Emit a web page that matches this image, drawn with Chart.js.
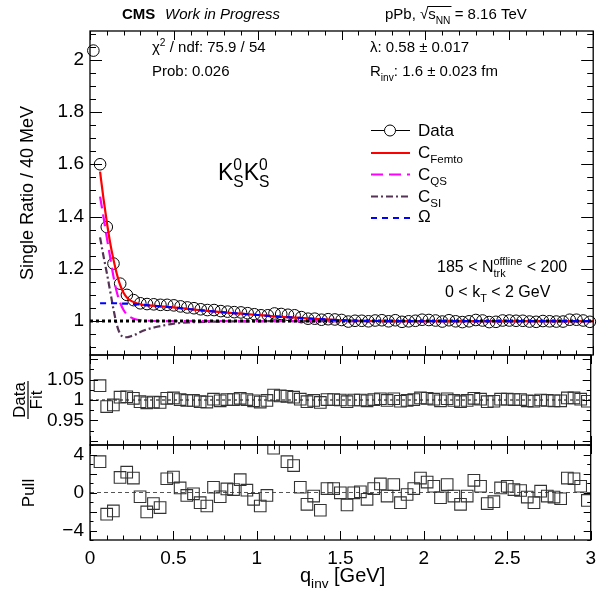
<!DOCTYPE html>
<html>
<head>
<meta charset="utf-8">
<script src="https://cdn.jsdelivr.net/npm/chart.js@4.4.1/dist/chart.umd.min.js"></script>
<style>
  body { margin: 0; background: #fff; }
  #wrap { position: relative; width: 600px; height: 597px; }
  #wrap canvas { position: absolute; left: 0; top: 0; }
</style>
</head>
<body>
<div id="wrap">
  <canvas id="mainPanel" width="600" height="597"></canvas>
  <canvas id="ratioPanel" width="600" height="597"></canvas>
  <canvas id="pullPanel" width="600" height="597"></canvas>
</div>
<script>

var FONT = '"Liberation Sans", Arial, Helvetica, sans-serif';

// DATA #######################################################################

// bin centres of the single ratio (40 MeV bins)
var qBins = [0.02, 0.06, 0.10, 0.14, 0.18, 0.22, 0.26, 0.30, 0.34, 0.38,
             0.42, 0.46, 0.50, 0.54, 0.58, 0.62, 0.66, 0.70, 0.74, 0.78,
             0.82, 0.86, 0.90, 0.94, 0.98, 1.02, 1.06, 1.10, 1.14, 1.18,
             1.22, 1.26, 1.30, 1.34, 1.38, 1.42, 1.46, 1.50, 1.54, 1.58,
             1.62, 1.66, 1.70, 1.74, 1.78, 1.82, 1.86, 1.90, 1.94, 1.98,
             2.02, 2.06, 2.10, 2.14, 2.18, 2.22, 2.26, 2.30, 2.34, 2.38,
             2.42, 2.46, 2.50, 2.54, 2.58, 2.62, 2.66, 2.70, 2.74, 2.78,
             2.82, 2.86, 2.90, 2.94, 2.98];

var singleRatio = [2.035, 1.600, 1.360, 1.220, 1.143, 1.100, 1.080, 1.068, 1.065, 1.064,
                   1.062, 1.062, 1.060, 1.056, 1.052, 1.049, 1.045, 1.042, 1.042, 1.038,
                   1.036, 1.034, 1.033, 1.030, 1.026, 1.022, 1.022, 1.029, 1.027, 1.024,
                   1.022, 1.015, 1.009, 1.009, 1.005, 1.007, 1.006, 1.004, 0.998, 1.001,
                   1.001, 0.999, 1.002, 1.003, 0.999, 1.003, 0.997, 0.999, 1.001, 1.005,
                   1.004, 1.002, 0.998, 1.003, 0.999, 0.996, 0.999, 1.004, 1.002, 0.996,
                   0.997, 1.002, 1.002, 1.001, 1.001, 0.998, 0.997, 1.000, 0.999, 0.998,
                   0.998, 1.005, 1.005, 1.002, 0.997];

// data / fit and pull start at the second bin (fit range)
var dataOverFit = [1.035, 0.984, 0.988, 1.007, 1.008, 1.004, 0.996, 0.993, 0.995, 0.994,
                   1.004, 1.005, 1.001, 0.999, 0.999, 0.996, 0.995, 1.002, 0.998, 1.001,
                   1.001, 1.004, 1.001, 0.998, 0.995, 0.999, 1.012, 1.010, 1.009, 1.007,
                   1.002, 0.996, 0.999, 0.994, 1.001, 1.001, 1.000, 0.996, 1.000, 1.000,
                   0.998, 1.001, 1.003, 0.999, 1.003, 0.997, 0.999, 1.001, 1.005, 1.004,
                   1.002, 0.998, 1.003, 0.999, 0.996, 0.999, 1.004, 1.002, 0.996, 0.997,
                   1.002, 1.002, 1.001, 1.001, 0.998, 0.997, 1.000, 0.999, 0.998, 0.998,
                   1.005, 1.005, 1.002, 0.997];

var pullValues = [3.24, -2.28, -1.94, 1.59, 2.14, 1.52, -0.45, -2.04, -1.17, -1.59,
                  1.45, 1.62, 0.48, -0.31, -0.14, -1.07, -1.42, 0.55, -0.45, 0.38,
                  0.31, 1.35, 0.24, -0.72, -1.42, -0.31, 4.66, 5.8, 3.24, 2.83,
                  0.55, -1.24, -0.38, -1.87, 0.41, 0.41, -0.03, -1.31, -0.03, 0.07,
                  -0.72, 0.41, 0.90, -0.38, 0.83, -1.07, -0.21, 0.41, 1.52, 1.10,
                  0.66, -0.55, 0.83, -0.38, -1.24, -0.38, 1.28, 0.66, -1.17, -0.97,
                  0.48, 0.66, 0.31, 0.21, -0.48, -1.07, 0.14, -0.38, -0.48, -0.66,
                  1.52, 1.45, 0.66, -0.83];

// fit components
var fitQ = [0.06, 0.08, 0.10, 0.12, 0.14, 0.16, 0.18, 0.20, 0.22, 0.24,
            0.27, 0.30, 0.35, 0.40, 0.50, 0.60, 0.70, 0.80, 0.90, 1.00,
            1.10, 1.20, 1.30, 1.40, 1.50, 1.60, 1.80, 2.00, 2.50, 3.00];

var femtoFit = [1.572, 1.470, 1.380, 1.300, 1.235, 1.180, 1.137, 1.108, 1.090, 1.079,
                1.070, 1.064, 1.060, 1.057, 1.052, 1.045, 1.039, 1.033, 1.028, 1.023,
                1.018, 1.014, 1.010, 1.006, 1.003, 1.001, 1.000, 1.000, 1.000, 1.000];

var qsFit = [1.476, 1.400, 1.320, 1.245, 1.170, 1.110, 1.070, 1.042, 1.025, 1.015,
             1.007, 1.003, 1.001, 1.000, 1.000, 1.000, 1.000, 1.000, 1.000, 1.000,
             1.000, 1.000, 1.000, 1.000, 1.000, 1.000, 1.000, 1.000, 1.000, 1.000];

var siFit = [1.320, 1.250, 1.185, 1.115, 1.045, 0.985, 0.950, 0.940, 0.938, 0.941,
             0.948, 0.958, 0.970, 0.978, 0.990, 0.995, 0.997, 0.998, 0.999, 0.999,
             1.000, 1.000, 1.000, 1.000, 1.000, 1.000, 1.000, 1.000, 1.000, 1.000];

var omegaFit = [1.068, 1.068, 1.068, 1.068, 1.068, 1.068, 1.067, 1.067, 1.067, 1.066,
                1.065, 1.063, 1.060, 1.057, 1.052, 1.045, 1.039, 1.033, 1.028, 1.023,
                1.018, 1.014, 1.010, 1.006, 1.003, 1.001, 1.000, 1.000, 1.000, 1.000];

var unityQ = [0, 3];
var xTickLabels = [0, 0.5, 1, 1.5, 2, 2.5, 3];
var mainYTicks = [1, 1.2, 1.4, 1.6, 1.8, 2];
var ratioYTicks = [0.95, 1, 1.05];
var pullYTicks = [-4, -2, 0, 2, 4];


// HELPERS ####################################################################

function pts(xs, ys) {
    return xs.map(function (x, i) { return {x: x, y: ys[i]}; });
}

function minusSign(v) {
    return v < 0 ? '\u2212' + Math.abs(v) : String(v);
}

// text with sub/superscripts, y is the baseline
function drawRich(ctx, x, y, parts, size) {
    var small = size * 0.68;
    var cx = x;
    ctx.textAlign = 'left';
    ctx.textBaseline = 'alphabetic';
    ctx.fillStyle = '#000';
    parts.forEach(function (p) {
        ctx.font = (p.style || '') + ' ' + size + 'px ' + FONT;
        if (p.t) {
            ctx.fillText(p.t, cx, y);
            cx += ctx.measureText(p.t).width;
        }
        ctx.font = small + 'px ' + FONT;
        var sw = 0;
        if (p.sub) {
            ctx.fillText(p.sub, cx, y + size * 0.32);
            sw = ctx.measureText(p.sub).width;
        }
        if (p.sup) {
            ctx.fillText(p.sup, cx, y - size * 0.42);
            sw = Math.max(sw, ctx.measureText(p.sup).width);
        }
        cx += sw;
    });
    return cx;
}

function seg(ctx, x1, y1, x2, y2) {
    ctx.beginPath();
    ctx.moveTo(x1, y1);
    ctx.lineTo(x2, y2);
    ctx.stroke();
}

// ROOT style frame with inward ticks on all four sides
function rootFrame(yMinor, yMajor, yLen) {
    return {
        id: 'rootFrame',
        afterDraw: function (chart) {
            var ctx = chart.ctx, a = chart.chartArea;
            var xs = chart.scales.x, ys = chart.scales.y;
            ctx.save();
            ctx.strokeStyle = '#000';
            ctx.lineWidth = 1;
            for (var i = 0; i <= 30; i++) {
                var px = Math.round(xs.getPixelForValue(i / 10)) + 0.5;
                var len = (i % 5 === 0) ? 9 : 4.5;
                seg(ctx, px, a.bottom, px, a.bottom - len);
                seg(ctx, px, a.top, px, a.top + len);
            }
            var k0 = Math.ceil(ys.min / yMinor - 1e-6), k1 = Math.floor(ys.max / yMinor + 1e-6);
            for (var k = k0; k <= k1; k++) {
                var v = k * yMinor;
                var r = v / yMajor;
                var major = Math.abs(r - Math.round(r)) < 1e-6;
                var py = Math.round(ys.getPixelForValue(v)) + 0.5;
                var l = major ? yLen : yLen / 2;
                seg(ctx, a.left, py, a.left + l, py);
                seg(ctx, a.right, py, a.right - l, py);
            }
            ctx.lineWidth = 1.3;
            ctx.strokeRect(a.left, a.top, a.right - a.left, a.bottom - a.top);
            ctx.restore();
        }
    };
}

function yAxis(min, max, tickList, afterTitle) {
    return {
        type: 'linear',
        min: min,
        max: max,
        afterBuildTicks: function (s) {
            s.ticks = tickList.map(function (v) { return {value: v}; });
        },
        ticks: {
            color: '#000',
            padding: 6,
            font: {family: FONT, size: 19},
            callback: function (v) { return minusSign(v); }
        },
        grid: {display: false, drawTicks: false},
        border: {display: false},
        title: afterTitle || {display: false},
        afterFit: function (s) {
            s.width = 90;
            s.paddingTop = 0;
            s.paddingBottom = 0;
        }
    };
}

var hiddenX = {type: 'linear', min: 0, max: 3, display: false};


// MAIN PANEL #################################################################

var mainText = {
    id: 'mainText',
    afterDraw: function (chart) {
        var ctx = chart.ctx;
        ctx.save();
        drawRich(ctx, 122, 19, [{t: 'CMS', style: 'bold'}], 15);
        drawRich(ctx, 165, 19, [{t: 'Work in Progress', style: 'italic'}], 15);

        var x = drawRich(ctx, 385, 19, [{t: 'pPb, '}], 15);
        x = drawRich(ctx, x, 19, [{t: '\u221A'}], 15);
        var x0 = x;
        x = drawRich(ctx, x, 19, [{t: 's', sub: 'NN'}], 15);
        ctx.strokeStyle = '#000';
        ctx.lineWidth = 1;
        seg(ctx, x0 - 1, 6.5, x + 1, 6.5);
        drawRich(ctx, x, 19, [{t: ' = 8.16 TeV'}], 15);

        drawRich(ctx, 152, 52, [{t: '\u03C7', sup: '2'}, {t: ' / ndf: 75.9 / 54'}], 15);
        drawRich(ctx, 152, 76, [{t: 'Prob: 0.026'}], 15);
        drawRich(ctx, 370, 52, [{t: '\u03BB: 0.58 \u00B1 0.017'}], 15);
        drawRich(ctx, 370, 76, [{t: 'R', sub: 'inv'}, {t: ': 1.6 \u00B1 0.023 fm'}], 15);

        drawRich(ctx, 218, 180, [{t: 'K', sub: 'S', sup: '0'}, {t: 'K', sub: 'S', sup: '0'}], 23);

        drawRich(ctx, 437, 272, [{t: '185 < N', sub: 'trk', sup: 'offline'}, {t: ' < 200'}], 16);
        drawRich(ctx, 445, 297, [{t: '0 < k', sub: 'T'}, {t: ' < 2 GeV'}], 16);

        // legend
        ctx.lineWidth = 1;
        ctx.strokeStyle = '#000';
        seg(ctx, 371, 130.5, 384.5, 130.5);
        seg(ctx, 395.5, 130.5, 410, 130.5);
        ctx.beginPath();
        ctx.arc(390, 130.5, 5.5, 0, Math.PI * 2);
        ctx.stroke();
        drawRich(ctx, 418, 136, [{t: 'Data'}], 17);

        ctx.lineWidth = 2.2;
        ctx.strokeStyle = '#ff0000';
        seg(ctx, 371, 153, 410, 153);
        drawRich(ctx, 418, 158, [{t: 'C', sub: 'Femto'}], 17);

        ctx.strokeStyle = '#ff00ff';
        ctx.setLineDash([12, 6]);
        seg(ctx, 371, 174.5, 410, 174.5);
        drawRich(ctx, 418, 179.5, [{t: 'C', sub: 'QS'}], 17);

        ctx.strokeStyle = '#553355';
        ctx.setLineDash([7, 3, 2, 3]);
        seg(ctx, 371, 196.5, 410, 196.5);
        drawRich(ctx, 418, 201.5, [{t: 'C', sub: 'SI'}], 17);

        ctx.strokeStyle = '#0000ff';
        ctx.setLineDash([6, 5]);
        seg(ctx, 371, 218, 410, 218);
        ctx.setLineDash([]);
        drawRich(ctx, 418, 222, [{t: '\u03A9'}], 17);
        ctx.restore();
    }
};

var curveStyle = {pointRadius: 0, borderWidth: 2.2, cubicInterpolationMode: 'monotone', fill: false};

new Chart(document.getElementById('mainPanel'), {
    type: 'line',
    data: {
        datasets: [
            Object.assign({data: pts(fitQ, omegaFit), borderColor: '#0000ff', borderDash: [6, 5], order: 1}, curveStyle),
            Object.assign({data: pts(unityQ, [1, 1]), borderColor: '#000', borderDash: [3, 3], order: 2}, curveStyle, {borderWidth: 3}),
            Object.assign({data: pts(fitQ, femtoFit), borderColor: '#ff0000', order: 3}, curveStyle),
            Object.assign({data: pts(fitQ, qsFit), borderColor: '#ff00ff', borderDash: [12, 6], order: 4}, curveStyle),
            Object.assign({data: pts(fitQ, siFit), borderColor: '#553355', borderDash: [7, 3, 2, 3], order: 5}, curveStyle),
            {
                data: pts(qBins, singleRatio),
                showLine: false,
                pointStyle: 'circle',
                pointRadius: 5.8,
                pointBorderWidth: 1,
                pointBorderColor: '#000',
                pointBackgroundColor: 'rgba(0,0,0,0)',
                clip: false,
                order: 6
            }
        ]
    },
    options: {
        responsive: false,
        animation: false,
        events: [],
        layout: {padding: {top: 31, right: 2, bottom: 242, left: 0}},
        plugins: {legend: {display: false}, tooltip: {enabled: false}},
        scales: {
            x: hiddenX,
            y: yAxis(0.87, 2.11, mainYTicks, {
                display: true,
                text: 'Single Ratio / 40 MeV',
                color: '#000',
                font: {family: FONT, size: 18},
                padding: {top: 17, bottom: 0}
            })
        }
    },
    plugins: [rootFrame(0.05, 0.2, 12), mainText]
});


// RATIO PANEL ################################################################

var ratioTitle = {
    id: 'ratioTitle',
    afterDraw: function (chart) {
        var ctx = chart.ctx;
        ctx.save();
        ctx.translate(28, 400);
        ctx.rotate(-Math.PI / 2);
        ctx.font = '17px ' + FONT;
        ctx.fillStyle = '#000';
        ctx.textAlign = 'center';
        ctx.textBaseline = 'alphabetic';
        ctx.fillText('Data', 0, -3);
        ctx.fillText('Fit', 0, 14);
        var w = ctx.measureText('Data').width;
        ctx.strokeStyle = '#000';
        ctx.lineWidth = 1.2;
        seg(ctx, -w / 2 - 1, 0, w / 2 + 1, 0);
        ctx.restore();
    }
};

new Chart(document.getElementById('ratioPanel'), {
    type: 'line',
    data: {
        datasets: [
            {
                data: pts(unityQ, [1, 1]),
                borderColor: '#000',
                borderDash: [3, 3],
                borderWidth: 1,
                pointRadius: 0,
                order: 2
            },
            {
                data: pts(qBins.slice(1), dataOverFit),
                showLine: false,
                pointStyle: 'rect',
                pointRadius: 8.2,
                pointBorderWidth: 1.1,
                pointBorderColor: '#333',
                pointBackgroundColor: 'rgba(0,0,0,0)',
                order: 1
            }
        ]
    },
    options: {
        responsive: false,
        animation: false,
        events: [],
        layout: {padding: {top: 355, right: 2, bottom: 152, left: 0}},
        plugins: {legend: {display: false}, tooltip: {enabled: false}},
        scales: {
            x: hiddenX,
            y: yAxis(0.89, 1.11, ratioYTicks)
        }
    },
    plugins: [rootFrame(0.025, 0.05, 8), ratioTitle]
});


// PULL PANEL #################################################################

var pullTitles = {
    id: 'pullTitles',
    afterDraw: function (chart) {
        var ctx = chart.ctx;
        ctx.save();
        ctx.translate(34, 493);
        ctx.rotate(-Math.PI / 2);
        ctx.font = '17px ' + FONT;
        ctx.fillStyle = '#000';
        ctx.textAlign = 'center';
        ctx.textBaseline = 'alphabetic';
        ctx.fillText('Pull', 0, 0);
        ctx.restore();

        ctx.save();
        drawRich(ctx, 300, 582, [{t: 'q', sub: 'inv'}, {t: ' [GeV]'}], 20);
        ctx.restore();
    }
};

new Chart(document.getElementById('pullPanel'), {
    type: 'line',
    data: {
        datasets: [
            {
                data: pts(unityQ, [0, 0]),
                borderColor: '#555',
                borderDash: [4, 3],
                borderWidth: 1,
                pointRadius: 0,
                order: 2
            },
            {
                data: pts(qBins.slice(1), pullValues),
                showLine: false,
                pointStyle: 'rect',
                pointRadius: 8.2,
                pointBorderWidth: 1.1,
                pointBorderColor: '#333',
                pointBackgroundColor: 'rgba(0,0,0,0)',
                order: 1
            }
        ]
    },
    options: {
        responsive: false,
        animation: false,
        events: [],
        layout: {padding: {top: 445, right: 2, bottom: 0, left: 0}},
        plugins: {legend: {display: false}, tooltip: {enabled: false}},
        scales: {
            x: {
                type: 'linear',
                min: 0,
                max: 3,
                afterBuildTicks: function (s) {
                    s.ticks = xTickLabels.map(function (v) { return {value: v}; });
                },
                ticks: {
                    color: '#000',
                    padding: 7,
                    maxRotation: 0,
                    font: {family: FONT, size: 19},
                    callback: function (v) { return String(v); }
                },
                grid: {display: false, drawTicks: false},
                border: {display: false},
                afterFit: function (s) {
                    s.height = 57;
                    s.paddingLeft = 0;
                    s.paddingRight = 0;
                }
            },
            y: yAxis(-5, 5, pullYTicks)
        }
    },
    plugins: [rootFrame(1, 2, 7), pullTitles]
});

</script>
</body>
</html>
